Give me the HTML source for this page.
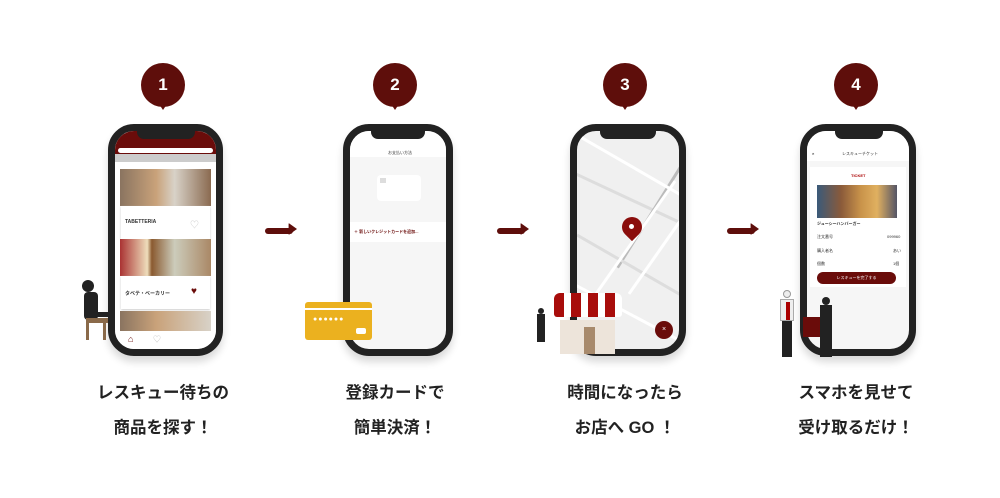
<!DOCTYPE html>
<html><head><meta charset="utf-8"><style>
*{margin:0;padding:0;box-sizing:border-box}
body{width:1000px;height:498px;background:#fff;position:relative;overflow:hidden;font-family:"Liberation Sans","Noto Sans CJK JP",sans-serif}
.a{position:absolute}
.badge{position:absolute;width:44px;height:44px;border-radius:50%;background:#5e0e0b;color:#fff;font-size:17px;font-weight:bold;text-align:center;line-height:44px}
.badge:after{content:"";position:absolute;left:16px;top:38px;border-left:6px solid transparent;border-right:6px solid transparent;border-top:9px solid #5e0e0b}
.phone{position:absolute;width:112px;height:232px;border:7px solid #222;border-radius:26px;background:#f6f6f6;overflow:hidden;box-shadow:0 6px 8px rgba(0,0,0,.15)}
.notch{position:absolute;left:22px;top:-1px;width:58px;height:9px;background:#222;border-radius:0 0 7px 7px;z-index:5}
.arrow{position:absolute;width:28px;height:6px;background:#5e0e0b;border-radius:3px}
.arrow:after{content:"";position:absolute;right:-4px;top:-5px;width:12px;height:12px;border-radius:50%;background:#5e0e0b;clip-path:polygon(30% 0,100% 50%,30% 100%)}
.cap{position:absolute;width:200px;text-align:center;font-size:16.5px;font-weight:bold;color:#222;line-height:35px}
.t{font-size:4px;color:#333;position:absolute}
.rd{position:absolute;height:3px;background:#fff}
</style></head><body>

<div class="badge" style="left:141px;top:63px">1</div>
<div class="badge" style="left:373px;top:63px">2</div>
<div class="badge" style="left:603px;top:63px">3</div>
<div class="badge" style="left:834px;top:63px">4</div>

<div class="arrow" style="left:265px;top:228px"></div>
<div class="arrow" style="left:497px;top:228px"></div>
<div class="arrow" style="left:727px;top:228px"></div>

<!-- phone 1 -->
<div class="phone" style="left:108px;top:124px;width:115px;background:#fff">
 <div class="notch" style="left:22px;width:58px"></div>
 <div class="a" style="left:0;top:0;width:101px;height:23px;background:#6a0c0a"></div>
 <div class="a" style="left:3px;top:17px;width:95px;height:5px;background:#fff;border-radius:3px"></div>
 <div class="a" style="left:0;top:23px;width:101px;height:8px;background:#ccc"></div>
 <div class="a" style="left:5px;top:38px;width:91px;height:37px;background:linear-gradient(90deg,#8a7460,#c9a27a 40%,#d8d2c8 60%,#8a6a50)"></div>
 <div class="a" style="left:6px;top:75px;width:89px;height:33px;background:#fff;box-shadow:0 1px 2px #ccc"></div>
 <div class="t" style="left:10px;top:88px;font-size:5px;font-weight:bold">TABETTERIA</div>
 <div class="a" style="left:75px;top:87px;color:#ccc;font-size:9px">♡</div>
 <div class="a" style="left:5px;top:108px;width:91px;height:37px;background:linear-gradient(90deg,#a33,#edb 30%,#8a5a30 35%,#ccb 60%,#a86)"></div>
 <div class="a" style="left:6px;top:145px;width:89px;height:33px;background:#fff;box-shadow:0 1px 2px #ccc"></div>
 <div class="t" style="left:10px;top:159px;font-size:5px;font-weight:bold">タベテ・ベーカリー</div>
 <div class="a" style="left:76px;top:155px;color:#6a0c0a;font-size:10px">♥</div>
 <div class="a" style="left:5px;top:180px;width:91px;height:20px;background:linear-gradient(90deg,#8a7460,#c9a27a 40%,#d8d2c8)"></div>
 <div class="a" style="left:0;top:200px;width:101px;height:18px;background:#fff"></div>
 <div class="a" style="left:13px;top:203px;color:#6a0c0a;font-size:9px">⌂</div>
 <div class="a" style="left:38px;top:203px;color:#bbb;font-size:8px">♡</div>
</div>
<!-- person sitting -->
<div class="a" style="left:82px;top:280px;width:12px;height:12px;border-radius:50%;background:#222"></div>
<div class="a" style="left:84px;top:292px;width:14px;height:28px;background:#222;border-radius:4px"></div>
<div class="a" style="left:86px;top:318px;width:22px;height:5px;background:#8a6a4a"></div>
<div class="a" style="left:86px;top:322px;width:3px;height:18px;background:#8a6a4a"></div>
<div class="a" style="left:103px;top:322px;width:3px;height:18px;background:#8a6a4a"></div>
<div class="a" style="left:96px;top:312px;width:18px;height:5px;background:#222"></div>

<!-- phone 2 -->
<div class="phone" style="left:343px;top:124px;width:110px">
 <div class="notch" style="left:21px;width:54px"></div>
 <div class="a" style="left:0;top:0;width:96px;height:26px;background:#fff"></div>
 <div class="t" style="left:38px;top:19px">お支払い方法</div>
 <div class="a" style="left:27px;top:44px;width:44px;height:26px;background:#fff;border-radius:4px"></div>
 <div class="a" style="left:30px;top:47px;width:6px;height:5px;background:#ddd"></div>
 <div class="a" style="left:0;top:91px;width:96px;height:20px;background:#fff"></div>
 <div class="t" style="left:4px;top:98px;color:#6a0c0a;font-weight:bold">＋ 新しいクレジットカードを追加...</div>
</div>
<div class="a" style="left:305px;top:302px;width:67px;height:38px;background:#ebb11f;border-radius:3px"></div>
<div class="a" style="left:305px;top:308px;width:67px;height:2px;background:#fff"></div>
<div class="a" style="left:313px;top:316px;color:#fff;font-size:7px;letter-spacing:1px">●●●●●●</div>
<div class="a" style="left:356px;top:328px;width:10px;height:6px;background:#fff;border-radius:2px"></div>

<!-- phone 3 -->
<div class="phone" style="left:570px;top:124px;width:116px;background:#f0f0f0">
 <div class="notch" style="left:23px;width:56px"></div>
 <div class="rd" style="left:-20px;top:70px;width:160px;background:#ddd;transform:rotate(25deg)"></div>
 <div class="a" style="left:10px;top:80px;width:130px;height:3px;background:#bbb;transform:rotate(-58deg)"></div>
 <div class="rd" style="left:-10px;top:140px;width:150px;background:#ddd;transform:rotate(30deg)"></div>
 <div class="rd" style="left:-10px;top:40px;width:150px;transform:rotate(30deg)"></div>
 <div class="rd" style="left:-20px;top:110px;width:150px;transform:rotate(-55deg)"></div>
 <div class="rd" style="left:20px;top:100px;width:150px;transform:rotate(-55deg)"></div>
 <div class="rd" style="left:-30px;top:180px;width:160px;transform:rotate(28deg)"></div>
 <div class="a" style="left:45px;top:86px;width:20px;height:20px;background:#8a0d0b;border-radius:50% 50% 50% 0;transform:rotate(-45deg)"></div>
 <div class="a" style="left:52px;top:93px;width:5px;height:5px;background:#fff;border-radius:50%"></div>
 <div class="a" style="left:78px;top:190px;width:18px;height:18px;background:#6a0c0a;border-radius:50%;color:#fff;font-size:7px;text-align:center;line-height:18px">×</div>
</div>
<div class="a" style="left:560px;top:320px;width:55px;height:34px;background:#ede4da"></div>
<div class="a" style="left:584px;top:327px;width:11px;height:27px;background:#a88a6c"></div>
<div class="a" style="left:554px;top:293px;width:68px;height:24px;background:repeating-linear-gradient(90deg,#a80d0b 0 10px,#fff 10px 17px);border-radius:6px 6px 3px 3px"></div>
<div class="a" style="left:538px;top:308px;width:6px;height:6px;border-radius:50%;background:#222"></div>
<div class="a" style="left:537px;top:314px;width:8px;height:28px;background:#222"></div>

<!-- phone 4 -->
<div class="phone" style="left:800px;top:124px;width:116px">
 <div class="notch" style="left:28px;width:48px"></div>
 <div class="a" style="left:0;top:0;width:102px;height:30px;background:#fff"></div>
 <div class="t" style="left:5px;top:20px;font-weight:bold">×</div>
 <div class="t" style="left:35px;top:20px">レスキューチケット</div>
 <div class="a" style="left:3px;top:36px;width:96px;height:120px;background:#fff"></div>
 <div class="t" style="left:44px;top:42px;color:#a00;font-weight:bold">TICKET</div>
 <div class="a" style="left:10px;top:54px;width:80px;height:33px;background:linear-gradient(90deg,#3a5a7a,#8a5a3a 30%,#c9934a 55%,#e0b060 75%,#556)"></div>
 <div class="t" style="left:10px;top:90px;font-weight:bold">ジューシーハンバーガー</div>
 <div class="t" style="left:10px;top:103px">注文番号</div><div class="t" style="left:80px;top:103px">099960</div>
 <div class="t" style="left:10px;top:117px">購入者名</div><div class="t" style="left:86px;top:117px">あい</div>
 <div class="t" style="left:10px;top:130px">個数</div><div class="t" style="left:86px;top:130px">1個</div>
 <div class="a" style="left:10px;top:141px;width:79px;height:12px;background:#6a0c0a;border-radius:6px;color:#fff;font-size:4px;text-align:center;line-height:12px">レスキューを完了する</div>
</div>
<div class="a" style="left:783px;top:290px;width:8px;height:8px;border-radius:50%;background:#eee;border:1px solid #999"></div>
<div class="a" style="left:780px;top:299px;width:14px;height:22px;background:#eee;border:1px solid #aaa"></div>
<div class="a" style="left:786px;top:302px;width:4px;height:18px;background:#a00"></div>
<div class="a" style="left:782px;top:321px;width:10px;height:36px;background:#222"></div>
<div class="a" style="left:803px;top:317px;width:18px;height:20px;background:#6a0c0a"></div>
<div class="a" style="left:822px;top:297px;width:8px;height:8px;border-radius:50%;background:#222"></div>
<div class="a" style="left:820px;top:305px;width:12px;height:52px;background:#222"></div>

<div class="cap" style="left:63px;top:376px">レスキュー待ちの<br>商品を探す！</div>
<div class="cap" style="left:295px;top:376px">登録カードで<br>簡単決済！</div>
<div class="cap" style="left:525px;top:376px">時間になったら<br>お店へ GO ！</div>
<div class="cap" style="left:756px;top:376px">スマホを見せて<br>受け取るだけ！</div>
</body></html>
